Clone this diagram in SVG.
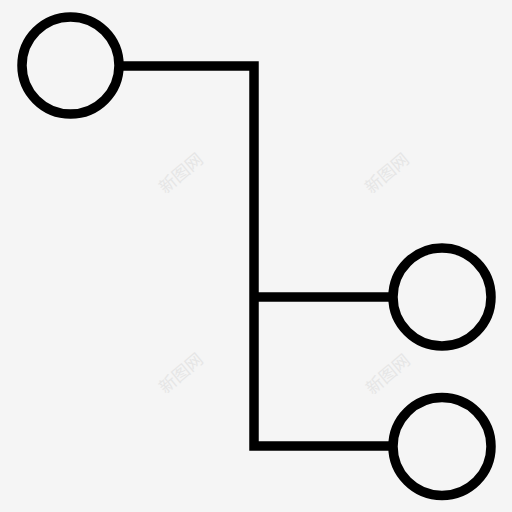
<svg xmlns="http://www.w3.org/2000/svg" width="512" height="512" viewBox="0 0 512 512">
<style>
.n{fill:none;stroke:#000;stroke-width:9.5}
.c{fill:none;stroke:#000;stroke-width:9.5;stroke-linejoin:miter}
.w{font-family:"Noto Sans CJK SC",sans-serif;font-size:17px;fill:#e6e6e6;text-anchor:middle;dominant-baseline:central}
</style>
<rect width="512" height="512" fill="#f5f5f5"/>
<g id="watermarks">
<text class="w" transform="translate(180,172) rotate(-40)">新图网</text>
<text class="w" transform="translate(386,172) rotate(-40)">新图网</text>
<text class="w" transform="translate(180,372) rotate(-40)">新图网</text>
<text class="w" transform="translate(387,373) rotate(-40)">新图网</text>
</g>
<g id="connectors">
<polyline class="c" points="118,66 254,66 254,446 394,446"/>
<line class="c" x1="254" y1="297" x2="394" y2="297"/>
</g>
<g id="node-root"><circle class="n" cx="70.5" cy="65.5" r="48.5"/></g>
<g id="node-child1"><circle class="n" cx="442" cy="297" r="49"/></g>
<g id="node-child2"><circle class="n" cx="442" cy="446.5" r="49"/></g>
</svg>
